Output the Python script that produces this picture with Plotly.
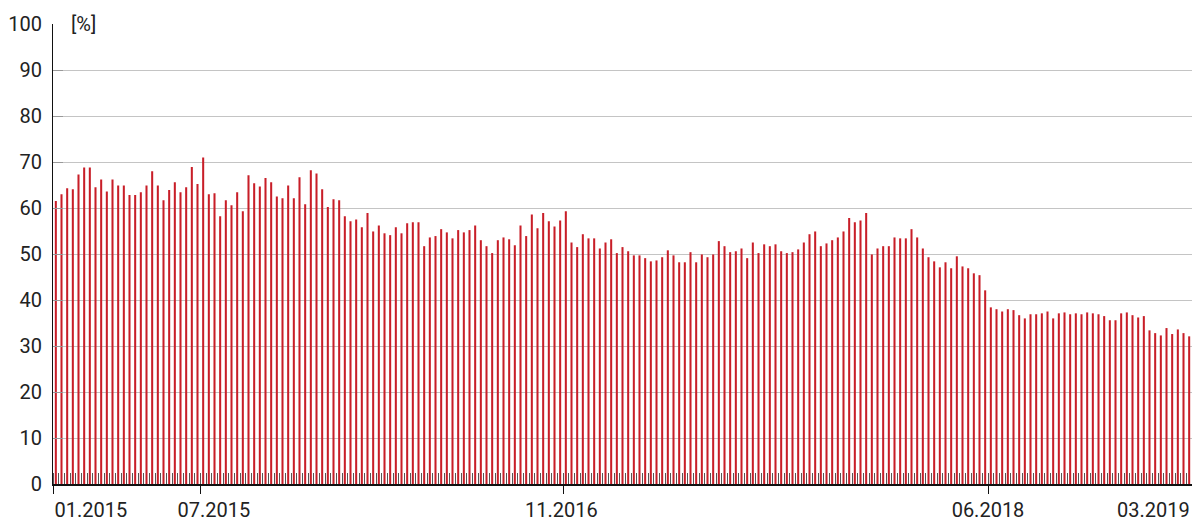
import plotly.graph_objects as go

values = [
    61.5, 63.0, 64.3, 64.1, 67.3, 68.8, 68.8, 64.5, 66.2, 63.6,
    66.2, 64.9, 64.9, 62.8, 62.8, 63.4, 64.9, 68.0, 64.9, 61.7,
    63.9, 65.6, 63.4, 64.5, 68.9, 65.2, 71.0, 63.0, 63.2, 58.2,
    61.7, 60.6, 63.4, 59.3, 67.1, 65.4, 64.7, 66.5, 65.6, 62.5,
    62.1, 64.9, 62.1, 66.7, 60.8, 68.2, 67.5, 64.1, 60.2, 61.9,
    61.7, 58.2, 57.1, 57.5, 55.8, 58.9, 54.9, 56.2, 54.5, 54.1,
    55.8, 54.5, 56.7, 56.9, 56.9, 51.7, 53.6, 53.9, 55.4, 54.7,
    53.4, 55.2, 54.7, 55.2, 56.2, 53.0, 51.7, 50.2, 53.0, 53.6,
    53.2, 51.9, 56.2, 53.9, 58.6, 55.6, 58.9, 57.1, 56.0, 57.3,
    59.3, 52.5, 51.5, 54.3, 53.4, 53.4, 51.2, 52.5, 53.2, 50.2,
    51.5, 50.6, 49.7, 49.7, 49.1, 48.4, 48.6, 49.3, 50.8, 49.7,
    48.2, 48.2, 50.4, 48.2, 49.9, 49.3, 49.9, 52.8, 51.7, 50.4,
    50.6, 51.2, 49.1, 52.5, 50.2, 52.1, 51.7, 52.1, 50.6, 50.2,
    50.4, 51.0, 52.5, 54.3, 54.9, 51.7, 52.3, 53.0, 53.6, 54.9,
    57.8, 56.9, 57.3, 58.9, 49.9, 51.2, 51.7, 51.7, 53.6, 53.4,
    53.4, 55.4, 53.6, 51.2, 49.3, 48.4, 47.1, 48.2, 46.9, 49.5,
    47.3, 46.9, 45.8, 45.4, 42.1, 38.4, 38.0, 37.5, 38.0, 37.8,
    36.7, 36.0, 36.9, 36.9, 37.1, 37.5, 36.0, 37.1, 37.3, 36.9,
    37.1, 36.9, 37.3, 37.1, 36.9, 36.5, 35.6, 35.6, 37.1, 37.3,
    36.7, 36.2, 36.5, 33.4, 32.8, 32.3, 33.9, 32.6, 33.6, 32.8,
    32.1,
]
weeks = list(range(len(values)))

tick_labels = ["01.2015", "07.2015", "11.2016", "06.2018", "03.2019"]
tick_positions = [-0.5, 25.5, 89.5, 164.5, 200.5]
label_positions = [6.2, 27.9, 89.2, 164.5, 193.7]

y_ticks = [0, 10, 20, 30, 40, 50, 60, 70, 80, 90, 100]
y_grid = [10, 20, 30, 40, 50, 60, 70, 80, 90]

BAR = "#c81e28"
FONT = dict(family="Roboto", size=20, color="#222222")
xr = [-0.5, len(values) - 0.5]

fig = go.Figure()
fig.add_trace(go.Bar(x=weeks, y=values, marker_color=BAR, marker_line_width=0,
                     width=0.36, hoverinfo="skip"))
fig.add_trace(go.Scatter(x=weeks, y=values, mode="none", xaxis="x2",
                         hoverinfo="skip", showlegend=False))

fig.update_layout(
    width=1192, height=523,
    margin=dict(l=53, r=0, t=24, b=39, autoexpand=False),
    paper_bgcolor="white", plot_bgcolor="white",
    showlegend=False, font=FONT,
    xaxis=dict(
        range=xr, tickmode="array", tickvals=tick_positions,
        ticktext=[""] * len(tick_positions), automargin=False,
        ticks="outside", ticklen=8, tickcolor="#111111", tickwidth=1,
        showgrid=False, zeroline=False,
        showline=True, linecolor="#111111", linewidth=1.5,
        minor=dict(ticks="inside", ticklen=11, tickcolor="#555555", tickwidth=1,
                   tickmode="linear", tick0=-0.5, dtick=1, showgrid=False),
    ),
    xaxis2=dict(
        range=xr, overlaying="x", anchor="y", side="bottom", automargin=False,
        tickmode="array", tickvals=label_positions, ticktext=tick_labels,
        ticks="", showgrid=False, zeroline=False, showline=False,
        tickfont=FONT, ticklabelstandoff=12,
    ),
    yaxis=dict(
        range=[0, 100], tickmode="array", tickvals=y_ticks, automargin=False,
        ticks="inside", ticklen=10, tickcolor="#999999",
        showgrid=False, zeroline=False,
        showline=True, linecolor="#111111", linewidth=1,
        tickfont=FONT, ticklabelstandoff=6,
        minor=dict(tickmode="array", tickvals=y_grid, showgrid=True,
                   gridcolor="#c4c4c4", gridwidth=1.3, ticks=""),
    ),
    annotations=[dict(text="[%]", xref="paper", yref="paper", x=0.014, y=1,
                      xanchor="left", yanchor="middle", showarrow=False,
                      font=FONT)],
)

fig.write_html(
    "out.html",
    config={"displayModeBar": False},
    post_script="document.body.style.margin='0';document.body.style.padding='0';",
)
